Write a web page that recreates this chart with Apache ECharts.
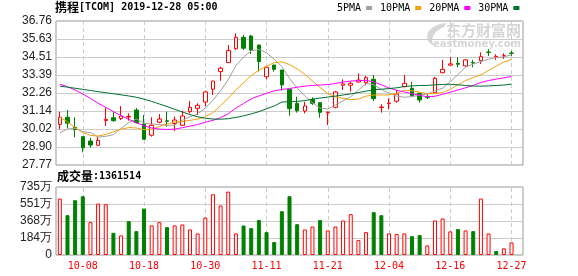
<!DOCTYPE html>
<html><head><meta charset="utf-8">
<script src="https://cdn.jsdelivr.net/npm/echarts/dist/echarts.min.js"></script>
<style>html,body{margin:0;padding:0;background:#fff}#c{width:578px;height:276px}</style>
</head><body><div id="c"></div><script>
const dates = ['10-03','10-04','10-07','10-08','10-09','10-10','10-11','10-14','10-15','10-16','10-17','10-18','10-21','10-22','10-23','10-24','10-25','10-28','10-29','10-30','10-31','11-01','11-04','11-05','11-06','11-07','11-08','11-11','11-12','11-13','11-14','11-15','11-18','11-19','11-20','11-21','11-22','11-25','11-26','11-27','11-29','12-02','12-03','12-04','12-05','12-06','12-09','12-10','12-11','12-12','12-13','12-16','12-17','12-18','12-19','12-20','12-23','12-24','12-26','12-27'];
const opens  = [30.31,30.75,30.12,29.54,29.27,29.00,30.55,30.72,30.68,30.77,31.20,30.33,29.63,30.44,30.53,30.37,30.25,31.10,31.31,31.70,32.50,33.60,34.16,35.03,35.74,35.82,35.26,33.28,34.01,33.70,32.50,31.62,31.14,31.87,31.66,31.03,31.37,32.75,32.75,32.95,32.91,33.12,31.36,31.60,31.75,32.66,32.56,32.25,32.03,32.28,33.53,34.00,34.12,33.95,34.16,34.28,34.82,34.53,34.57,34.76];
const closes = [30.75,30.38,29.99,28.85,29.02,29.31,30.62,30.54,30.83,30.80,30.41,29.38,30.25,30.64,30.50,30.58,30.83,31.37,31.50,32.33,33.01,33.81,34.91,35.74,35.06,34.95,34.22,33.87,33.74,32.77,31.29,31.16,31.45,31.62,31.06,31.07,32.33,32.83,32.87,33.07,33.22,31.91,31.39,31.64,32.20,32.87,32.10,31.83,32.00,33.18,33.74,34.08,34.06,34.33,34.14,34.53,34.80,34.55,34.59,34.74];
const lows   = [30.00,30.06,29.50,28.56,28.85,28.98,30.21,30.47,30.58,30.54,30.37,29.38,29.54,30.37,30.16,29.89,30.21,30.99,30.89,31.45,32.14,33.03,34.14,34.95,34.95,34.70,33.60,33.12,33.60,32.41,30.85,31.04,31.00,31.52,30.72,30.27,31.31,32.45,32.35,32.91,32.75,31.77,31.04,31.25,31.66,32.62,32.03,31.66,31.89,32.25,33.49,33.97,33.87,33.91,33.87,34.08,34.57,34.33,34.39,34.57];
const highs  = [31.08,31.20,30.75,29.56,29.46,29.54,31.37,31.08,31.45,31.00,31.33,30.89,30.75,30.95,31.10,30.79,31.16,31.77,31.62,32.41,33.03,33.91,35.26,35.99,35.89,35.89,35.26,33.87,34.01,33.70,32.50,32.03,31.72,32.00,31.66,31.10,32.39,33.12,32.97,33.49,33.33,33.39,31.56,31.93,32.45,33.39,32.95,32.25,32.20,33.28,34.33,34.49,34.49,34.37,34.33,34.80,35.00,34.68,34.74,34.89];
const volumes = [6100000,4300000,5920000,6350000,3550000,5560000,5490000,2400000,2120000,3660000,2580000,5020000,3200000,3550000,3010000,3200000,3300000,2760000,2330000,4050000,6560000,5350000,6850000,2330000,3190000,2900000,3770000,2470000,1400000,4730000,6350000,3330000,2760000,3080000,3770000,2650000,3080000,3730000,4410000,1610000,2470000,4630000,4300000,2330000,2260000,2330000,2040000,2150000,1040000,3730000,3950000,2550000,2800000,2650000,2580000,6100000,2330000,430000,720000,1361514];
const ma5  = [29.78,30.02,30.06,29.85,29.80,29.51,29.56,29.67,30.06,30.42,30.64,30.39,30.33,30.30,30.24,30.27,30.56,30.78,30.96,31.32,31.81,32.40,33.11,33.96,34.51,34.89,34.98,34.77,34.37,33.91,33.18,32.57,32.08,31.66,31.32,31.27,31.51,31.78,32.03,32.44,32.86,32.78,32.49,32.25,32.07,32.00,32.04,32.13,32.20,32.40,32.57,32.97,33.41,33.88,34.07,34.23,34.37,34.47,34.52,34.64];
const ma10 = [30.75,30.47,30.10,29.80,29.62,29.58,29.68,29.84,30.00,30.11,30.08,29.98,30.00,30.18,30.33,30.46,30.48,30.56,30.63,30.78,31.04,31.48,31.95,32.46,32.91,33.35,33.69,33.94,34.16,34.21,34.04,33.77,33.43,33.01,32.61,32.23,32.04,31.93,31.85,31.88,32.07,32.14,32.14,32.14,32.25,32.43,32.41,32.31,32.22,32.23,32.29,32.50,32.77,33.04,33.23,33.40,33.67,33.94,34.20,34.36];
const ma20 = [32.81,32.66,32.45,32.20,31.93,31.62,31.37,31.10,30.85,30.62,30.41,30.22,30.08,30.01,29.99,30.01,30.10,30.20,30.30,30.44,30.56,30.73,30.97,31.32,31.62,31.90,32.08,32.25,32.40,32.49,32.54,32.63,32.69,32.74,32.76,32.79,32.86,32.94,33.01,33.04,33.05,32.96,32.78,32.58,32.43,32.33,32.22,32.12,32.03,32.06,32.18,32.32,32.45,32.59,32.74,32.92,33.04,33.13,33.21,33.30];
const ma30 = [32.70,32.63,32.56,32.49,32.42,32.35,32.28,32.22,32.15,32.08,32.00,31.88,31.74,31.58,31.42,31.25,31.08,30.92,30.78,30.69,30.64,30.63,30.66,30.74,30.84,30.96,31.10,31.28,31.45,31.70,31.72,31.74,31.79,31.88,31.95,32.01,32.07,32.14,32.21,32.29,32.38,32.47,32.50,32.54,32.59,32.67,32.71,32.73,32.74,32.77,32.80,32.81,32.78,32.73,32.70,32.69,32.71,32.73,32.76,32.82];
const priceTicks = ['27.77','28.90','30.02','31.14','32.26','33.39','34.51','35.63','36.76'];
const priceMin = 27.7725, priceMax = 36.7565;
const volumeTicks = ['0','184万','368万','551万','735万'];
const volumeMax = 7350000;
const xLabels = ['10-08','10-18','10-30','11-11','11-21','12-04','12-16','12-27'];
const maNames = ['5PMA','10PMA','20PMA','30PMA'];
const maColors = ['#a0a0a0','#f2a20c','#ff00ff','#00702f'];

const cats = dates.concat(['']);
const GL = 56, GR = 55;
const labelFont = 'Liberation Sans';
const monoFont = 'DejaVu Sans Mono';
const dashStyle = {color:'#cccccc', type:[4,3], width:1};
const vmarks = xLabels.map(d => ({xAxis: d}));

const chart = echarts.init(document.getElementById('c'), null, {renderer:'canvas'});
const maSeries = [ma5, ma10, ma20, ma30].map((arr, k) => ({
  name: maNames[k], type:'line', xAxisIndex:0, yAxisIndex:0, data: arr,
  symbol:'none', showSymbol:false, smooth:false, z:4,
  lineStyle:{width:1, color:maColors[k]}, itemStyle:{color:maColors[k]}
}));

const volData = volumes.map((v, i) => {
  const up = i === 0 ? closes[0] >= opens[0] : closes[i] >= closes[i-1];
  return {value: v, itemStyle: up ? {color:'#ffffff', borderColor:'#ff0000', borderWidth:1}
                                   : {color:'#008000', borderColor:'#008000', borderWidth:1}};
});

chart.setOption({
  animation:false,
  backgroundColor:'#ffffff',
  title:[
    {left:55, top:1, padding:0, text:'{c|携程}{a|[TCOM] 2019-12-28 05:00}',
     textStyle:{rich:{c:{fontFamily:'Noto Sans CJK SC', fontSize:12, color:'#000'},
                      a:{fontFamily:monoFont, fontSize:10, color:'#000'}}}},
    {left:57, top:170, padding:0, text:'{c|成交量}{a|:1361514}',
     textStyle:{rich:{c:{fontFamily:'Noto Sans CJK SC', fontSize:12, color:'#000'},
                      a:{fontFamily:monoFont, fontSize:10, color:'#000'}}}}
  ],
  legend:{top:3, left:337, itemWidth:6, itemHeight:4, itemGap:8, align:'right', icon:'rect',
    padding:0, selectedMode:false, data:maNames,
    textStyle:{fontFamily:monoFont, fontSize:10, color:'#000', padding:[0,0,0,0]}},
  graphic:[
    {type:'polygon', z:0, silent:true,
      shape:{points:[[447,23],[440,24],[433,27],[428,32],[427,37],[428,41],[431,44],[434,46],[432,41],[433,36],[436,32],[440,29],[444,27]]},
      style:{fill:'#d6d6d6'}},
    {type:'text', z:0, silent:true, style:{x:521, y:23, text:'东方财富网', align:'right', verticalAlign:'top',
      font:'bold 15px "Noto Sans CJK SC"', fill:'#d6d6d6'}},
    {type:'text', z:0, silent:true, style:{x:521, y:39, text:'eastmoney.com', align:'right', verticalAlign:'top',
      font:'bold 10px "DejaVu Sans"', fill:'#d6d6d6'}}
  ],
  grid:[
    {left:GL, right:GR, top:21, height:144, show:true, borderColor:'#999', borderWidth:1},
    {left:GL, right:GR, top:187, height:68, show:true, borderColor:'#999', borderWidth:1}
  ],
  xAxis:[
    {type:'category', gridIndex:0, data:cats, boundaryGap:true,
     axisLine:{show:false}, axisTick:{show:false}, axisLabel:{show:false}, splitLine:{show:false}},
    {type:'category', gridIndex:1, data:cats, boundaryGap:true,
     axisLine:{show:false}, axisTick:{show:false}, splitLine:{show:false},
     axisLabel:{show:true, color:'#ff0000', fontFamily:monoFont, fontSize:10, margin:6,
       interval:(idx, val) => xLabels.indexOf(val) >= 0}}
  ],
  yAxis:[
    {type:'value', gridIndex:0, min:priceMin, max:priceMax, show:false},
    {type:'value', gridIndex:0, position:'left', min:0, max:priceTicks.length-1, interval:1,
     axisLine:{show:false}, axisTick:{show:false},
     axisLabel:{margin:4, color:'#222', fontFamily:labelFont, fontSize:12,
       formatter:v => priceTicks[Math.round(v)]},
     splitLine:{show:true, lineStyle:{color:'#cccccc', width:1}}},
    {type:'value', gridIndex:1, position:'left', min:0, max:volumeMax, interval:volumeMax/(volumeTicks.length-1),
     axisLine:{show:false}, axisTick:{show:false},
     axisLabel:{margin:4, color:'#222', fontFamily:labelFont, fontSize:12,
       formatter:v => volumeTicks[Math.round(v/(volumeMax/(volumeTicks.length-1)))]},
     splitLine:{show:true, lineStyle:{color:'#cccccc', width:1}}}
  ],
  series:[
    {type:'line', xAxisIndex:0, yAxisIndex:0, data:[], z:1, silent:true,
     markLine:{z:1, silent:true, symbol:['none','none'], label:{show:false}, lineStyle:dashStyle, data:vmarks}},
    {type:'line', xAxisIndex:1, yAxisIndex:2, data:[], z:1, silent:true,
     markLine:{z:1, silent:true, symbol:['none','none'], label:{show:false}, lineStyle:dashStyle, data:vmarks}},
    {name:'K', type:'candlestick', xAxisIndex:0, yAxisIndex:0, barWidth:4, z:3,
     data: dates.map((d,i) => [opens[i], closes[i], lows[i], highs[i]]),
     itemStyle:{color:'#ffffff', color0:'#008000', borderColor:'#ff0000', borderColor0:'#008000', borderWidth:1}},
    ...maSeries,
    {name:'VOL', type:'bar', xAxisIndex:1, yAxisIndex:2, barWidth:4, z:3, data:volData}
  ]
});
</script></body></html>
